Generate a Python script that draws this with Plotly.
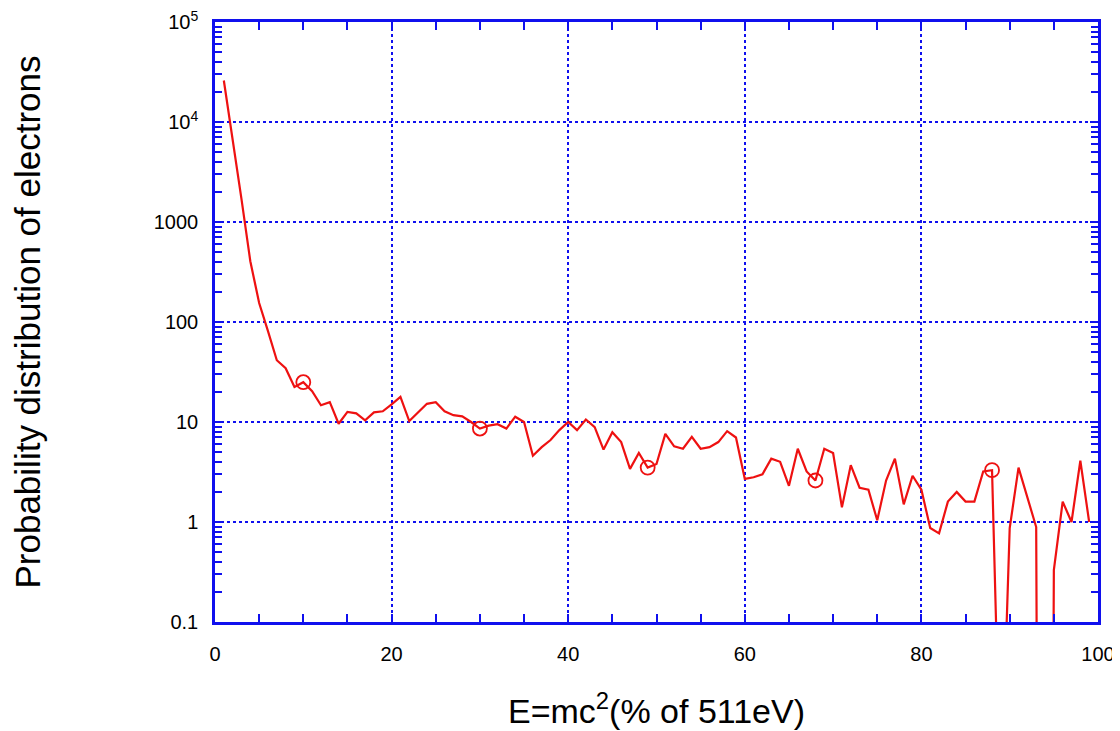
import plotly.graph_objects as go

# Energy (% of 511 eV)
energy = list(range(1, 100))
# Probability distribution of electrons
prob = [
    26000, 6800, 1690, 405, 155, 81, 41.5, 34.5, 22.4, 25,      # 1-10
    20.3, 14.7, 15.8, 9.6, 12.6, 12.2, 10.4, 12.5, 12.8, 15,    # 11-20
    17.8, 10.2, 12.5, 15.2, 15.8, 12.8, 11.7, 11.4, 10, 8.6,    # 21-30
    9.2, 9.5, 8.6, 11.3, 10, 4.6, 5.6, 6.6, 8.3, 10,            # 31-40
    8.3, 10.6, 8.9, 5.3, 7.9, 6.3, 3.4, 4.9, 3.5, 3.8,          # 41-50
    7.6, 5.7, 5.4, 7.1, 5.4, 5.6, 6.3, 8.1, 7.0, 2.7,           # 51-60
    2.8, 3.0, 4.3, 4.0, 2.3, 5.4, 3.2, 2.6, 5.4, 4.9,           # 61-70
    1.4, 3.7, 2.2, 2.1, 1.04, 2.6, 4.3, 1.5, 2.9, 2.1,          # 71-80
    0.87, 0.77, 1.6, 2.0, 1.6, 1.6, 3.2, 3.3, 1.5e-3, 0.87,     # 81-90
    3.5, 1.8, 0.89, 1e-20, 0.33, 1.6, 1.0, 4.1, 1.0,            # 91-99
]
# points marked with circles
marker_energy = [10, 30, 49, 68, 88]
marker_prob = [prob[energy.index(e)] for e in marker_energy]

x_ticks = [0, 20, 40, 60, 80, 100]
y_tickvals = [0.1, 1, 10, 100, 1000, 1e4, 1e5]
y_ticktext = ["0.1", "1", "10", "100", "1000", "10<sup>4</sup>", "10<sup>5</sup>"]

BLUE = "#1010ee"
RED = "#ee1111"
FONT = "Liberation Sans, Arial, sans-serif"

fig = go.Figure()
fig.add_trace(go.Scatter(x=energy, y=prob, mode="lines",
                         line=dict(color=RED, width=2.2), showlegend=False))
fig.add_trace(go.Scatter(x=marker_energy, y=marker_prob, mode="markers",
                         marker=dict(symbol="circle-open", size=14, color=RED,
                                     line=dict(width=1.8, color=RED)),
                         showlegend=False))

minor_y = [m * 10 ** d for d in range(-1, 5) for m in range(2, 10)]

fig.update_layout(
    width=1112, height=723,
    margin=dict(l=207, r=22, t=14, b=109, autoexpand=False),
    paper_bgcolor="white", plot_bgcolor="white",
    font=dict(family=FONT, color="black"),
    xaxis=dict(
        range=[0, 100], tickmode="array", tickvals=x_ticks,
        automargin=False, ticklabeloverflow="allow",
        ticks="inside", ticklen=8, tickcolor=BLUE, tickwidth=2,
        showline=True, linecolor=BLUE, linewidth=2.5, mirror="allticks",
        showgrid=True, gridcolor=BLUE, griddash="dot", gridwidth=1.6,
        zeroline=False,
        minor=dict(dtick=5, tick0=0, ticks="inside", ticklen=8,
                   tickcolor=BLUE, tickwidth=2, showgrid=False),
        tickfont=dict(size=20, family=FONT),
        ticklabelstandoff=12,
        title=dict(text="E=mc<sup>2</sup>(% of 511eV)",
                   font=dict(size=34, family=FONT), standoff=36),
    ),
    yaxis=dict(
        type="log", range=[-1, 5], tickmode="array",
        tickvals=y_tickvals, ticktext=y_ticktext,
        automargin=False, ticklabeloverflow="allow",
        ticks="inside", ticklen=8, tickcolor=BLUE, tickwidth=2,
        showline=True, linecolor=BLUE, linewidth=2.5, mirror="allticks",
        showgrid=True, gridcolor=BLUE, griddash="dot", gridwidth=1.6,
        zeroline=False,
        minor=dict(tickmode="array", tickvals=minor_y, ticks="inside",
                   ticklen=7, tickcolor=BLUE, tickwidth=2, showgrid=False),
        tickfont=dict(size=20, family=FONT),
        ticklabelstandoff=10,
        title=dict(text="Probability distribution of electrons",
                   font=dict(size=35, family=FONT), standoff=110),
    ),
)

fig.write_html("out.html")
